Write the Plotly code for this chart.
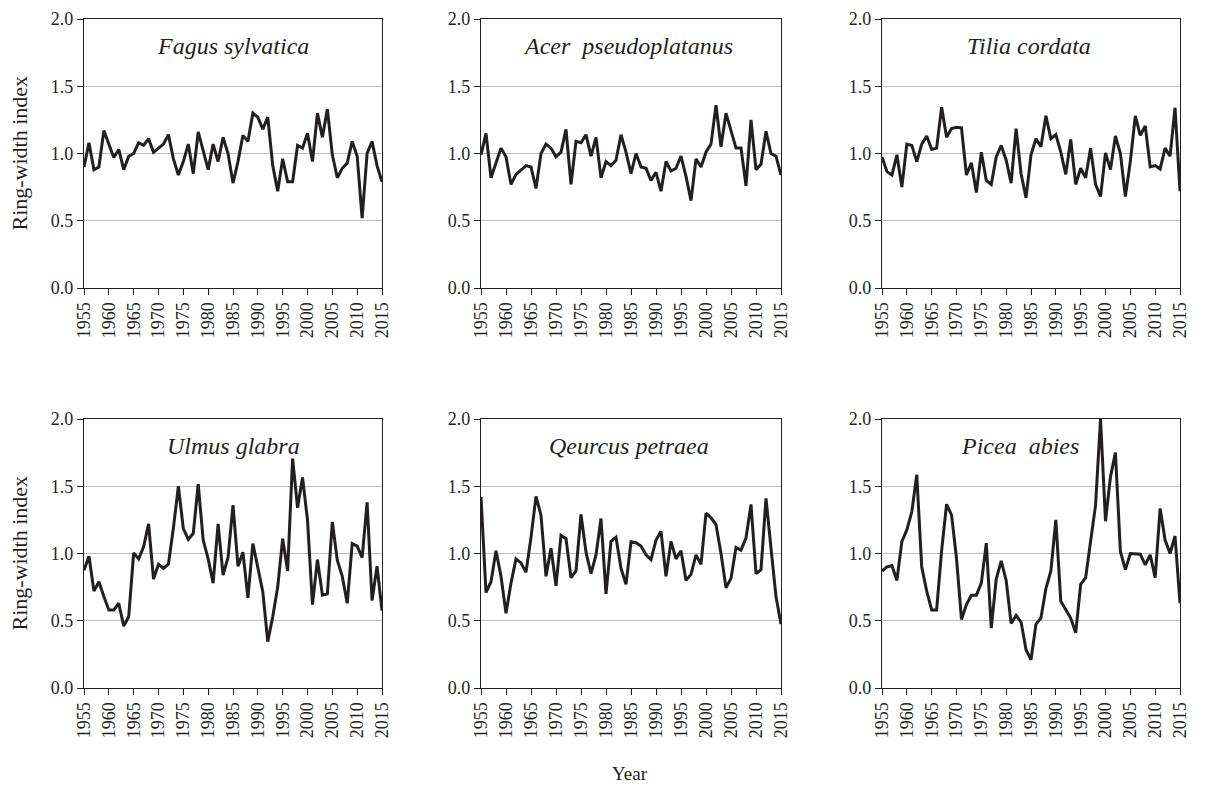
import plotly.graph_objects as go

years = list(range(1955, 2016))

fagus = [0.90, 1.08, 0.88, 0.90, 1.17, 1.07, 0.97, 1.03, 0.88, 0.98, 1.00, 1.08, 1.06, 1.11, 1.01, 1.04,
         1.07, 1.14, 0.96, 0.84, 0.94, 1.07, 0.85, 1.16, 1.02, 0.88, 1.07, 0.94, 1.12, 1.00, 0.78,
         0.94, 1.135, 1.09, 1.30, 1.27, 1.18, 1.27, 0.91, 0.72, 0.96, 0.79, 0.79, 1.06, 1.04, 1.15,
         0.94, 1.30, 1.12, 1.33, 0.99, 0.82, 0.89, 0.93, 1.09, 0.98, 0.52, 1.00, 1.09, 0.91, 0.79]

acer = [0.99, 1.15, 0.82, 0.93, 1.04, 0.975, 0.77, 0.845, 0.88, 0.91, 0.90, 0.74, 1.00, 1.07, 1.04,
        0.975, 1.01, 1.18, 0.77, 1.09, 1.08, 1.14, 0.98, 1.12, 0.82, 0.94, 0.91, 0.95, 1.14, 1.01,
        0.85, 1.00, 0.90, 0.89, 0.80, 0.86, 0.72, 0.94, 0.87, 0.89, 0.98, 0.83, 0.65, 0.96, 0.90,
        1.01, 1.07, 1.36, 1.05, 1.30, 1.17, 1.04, 1.04, 0.76, 1.25, 0.88, 0.92, 1.165, 1.00, 0.98, 0.84]

tilia = [0.975, 0.865, 0.84, 0.99, 0.75, 1.07, 1.06, 0.94, 1.07, 1.13, 1.03, 1.04, 1.345, 1.12, 1.185,
         1.195, 1.19, 0.84, 0.93, 0.71, 1.01, 0.80, 0.77, 0.975, 1.06, 0.95, 0.78,
         1.185, 0.85, 0.67, 0.99, 1.11, 1.05, 1.28, 1.11, 1.14, 1.01, 0.845, 1.105, 0.77, 0.89, 0.82,
         1.04, 0.77, 0.68, 1.005, 0.88, 1.13, 1.00, 0.68, 0.94, 1.28, 1.135, 1.205, 0.90, 0.91, 0.885,
         1.04, 0.98, 1.34, 0.72]

ulmus = [0.876, 0.98, 0.72, 0.79, 0.68, 0.58, 0.58, 0.63, 0.46, 0.53, 1.005, 0.96, 1.05, 1.22, 0.81,
         0.92, 0.89, 0.92, 1.19, 1.50, 1.185, 1.105, 1.15, 1.515, 1.10, 0.96, 0.78, 1.22, 0.84, 0.97, 1.36,
         0.906, 1.01, 0.67, 1.074, 0.90, 0.715, 0.345, 0.53, 0.75, 1.11, 0.87, 1.705, 1.34, 1.565, 1.25,
         0.62, 0.955, 0.69, 0.70, 1.235, 0.95, 0.83, 0.63, 1.074, 1.055, 0.97, 1.38, 0.65, 0.906, 0.575]

quercus = [1.42, 0.71, 0.79, 1.02, 0.83, 0.555, 0.78, 0.96, 0.93, 0.86, 1.12, 1.425, 1.285, 0.83, 1.04,
           0.76, 1.135, 1.11, 0.82, 0.87, 1.29, 1.01, 0.85, 0.99, 1.26, 0.70, 1.09, 1.12, 0.89, 0.77, 1.087,
           1.08, 1.055, 0.99, 0.955, 1.10, 1.165, 0.83, 1.09, 0.96, 1.02, 0.80, 0.845, 0.99, 0.92, 1.30,
           1.265, 1.215, 1.00, 0.745, 0.815, 1.045, 1.025, 1.115, 1.365, 0.85, 0.88, 1.41, 1.04, 0.68, 0.475]

picea = [0.87, 0.90, 0.91, 0.80, 1.09, 1.175, 1.31, 1.585, 0.90, 0.72, 0.58, 0.58, 1.02, 1.366, 1.287,
         0.965, 0.51, 0.62, 0.69, 0.69, 0.78, 1.077, 0.445, 0.81, 0.945, 0.80, 0.48,
         0.54, 0.49, 0.285, 0.21, 0.475, 0.52, 0.74, 0.87, 1.25, 0.645, 0.58, 0.52, 0.41, 0.77, 0.82,
         1.09, 1.36, 2.0, 1.24, 1.57, 1.75, 1.015, 0.88, 1.00, 1.00, 0.995, 0.915, 0.99, 0.82, 1.335,
         1.10, 1.00, 1.13, 0.63]

species = ["Fagus sylvatica", "Acer\u00a0\u00a0pseudoplatanus", "Tilia cordata",
           "Ulmus glabra", "Qeurcus petraea", "Picea\u00a0\u00a0abies"]
series = [fagus, acer, tilia, ulmus, quercus, picea]

y_ticks = [0.0, 0.5, 1.0, 1.5, 2.0]
x_ticks = list(range(1955, 2016, 5))

W, H = 1205, 787
cols_px = [(84, 382), (481, 781), (882, 1180)]
rows_px = [(19, 288), (419, 688)]
title_shift_px = [0, -3, -2, 0, -2, -11]

FONT = "Liberation Serif"
fig = go.Figure()

for i, (name, vals) in enumerate(zip(species, series)):
    r, c = divmod(i, 3)
    n = i + 1
    xa = "x" if n == 1 else f"x{n}"
    ya = "y" if n == 1 else f"y{n}"
    fig.add_trace(go.Scatter(x=years, y=vals, mode="lines", xaxis=xa, yaxis=ya,
                             line=dict(color="#231f20", width=3), showlegend=False,
                             hoverinfo="skip"))
    x0, x1 = cols_px[c]
    y0, y1 = rows_px[r]
    xkey = "xaxis" if n == 1 else f"xaxis{n}"
    ykey = "yaxis" if n == 1 else f"yaxis{n}"
    fig.update_layout(**{
        xkey: dict(domain=[x0 / W, x1 / W], anchor=ya, range=[1955, 2015], automargin=False,
                   tickvals=x_ticks, ticktext=[str(t) for t in x_ticks], tickangle=-90,
                   showline=True, mirror=True, linecolor="#231f20", linewidth=1.2,
                   ticks="outside", ticklen=6, tickcolor="#231f20",
                   showgrid=False, zeroline=False,
                   tickfont=dict(family=FONT, size=18, color="#231f20")),
        ykey: dict(domain=[1 - y1 / H, 1 - y0 / H], anchor=xa, range=[0, 2], automargin=False,
                   tickvals=y_ticks, ticktext=[f"{v:.1f}" for v in y_ticks],
                   showline=True, mirror=True, linecolor="#231f20", linewidth=1.2,
                   ticks="outside", ticklen=6, tickcolor="#231f20",
                   showgrid=True, gridcolor="#bdbdbd", gridwidth=1, zeroline=False,
                   tickfont=dict(family=FONT, size=18, color="#231f20")),
    })
    fig.add_annotation(x=((x0 + x1) / 2 + title_shift_px[i]) / W, y=1 - (y0 + 27) / H,
                       xref="paper", yref="paper", xanchor="center", yanchor="middle",
                       text=f"<i>{name}</i>", showarrow=False,
                       font=dict(family=FONT, size=24, color="#231f20"))

for (y0, y1) in rows_px:
    fig.add_annotation(x=19 / W, y=1 - (y0 + y1) / 2 / H, xref="paper", yref="paper",
                       xanchor="center", yanchor="middle",
                       text="Ring-width index", textangle=-90, showarrow=False,
                       font=dict(family=FONT, size=22, color="#231f20"))

fig.add_annotation(x=630 / W, y=1 - 773 / H, xref="paper", yref="paper", text="Year",
                   xanchor="center", yanchor="middle",
                   showarrow=False, font=dict(family=FONT, size=19, color="#231f20"))

fig.update_layout(width=W, height=H, margin=dict(l=0, r=0, t=0, b=0),
                  paper_bgcolor="white", plot_bgcolor="white")

fig.write_html("out.html")
